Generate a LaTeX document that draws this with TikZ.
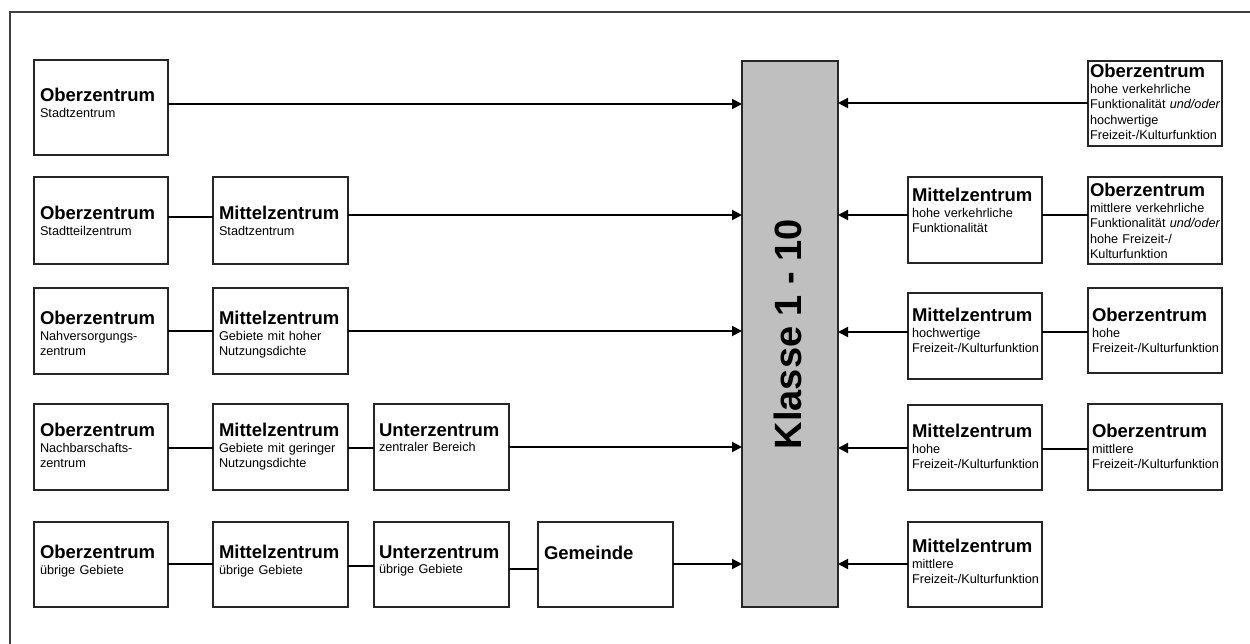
\documentclass[tikz,border=0pt]{standalone}
\usepackage{fontspec}
\setmainfont{Liberation Sans}
\usetikzlibrary{arrows.meta}
\newcommand\ttl{\fontsize{18.5}{20}\selectfont\bfseries}
\newcommand\sbt{\fontsize{12.7}{15.5}\selectfont}
\tikzset{
  box/.style={draw=black!85, line width=1.1pt, fill=white, inner sep=0pt, outer sep=0pt, anchor=north west},
  txt/.style={inner sep=0pt, outer sep=0pt, anchor=north west, text width=170pt, align=left, font=\sbt},
  arr/.style={line width=2pt, -{Triangle[length=10pt,width=10pt]}},
  lnk/.style={line width=2pt},
}
\begin{document}
\begin{tikzpicture}[x=1pt,y=-1pt]
\useasboundingbox (0,0) rectangle (1250,644);
\draw[black!75, line width=1.2pt] (10,12) rectangle (1275,670);
% left boxes
\node[box, minimum width=134pt, minimum height=95pt] (b11) at (34,60) {};
\node[box, minimum width=134pt, minimum height=87pt] (b21) at (34,177) {};
\node[box, minimum width=135pt, minimum height=87pt] (b22) at (213,177) {};
\node[box, minimum width=134pt, minimum height=86pt] (b31) at (34,288) {};
\node[box, minimum width=135pt, minimum height=86pt] (b32) at (213,288) {};
\node[box, minimum width=134pt, minimum height=86pt] (b41) at (34,404) {};
\node[box, minimum width=135pt, minimum height=86pt] (b42) at (213,404) {};
\node[box, minimum width=135pt, minimum height=86pt] (b43) at (374,404) {};
\node[box, minimum width=134pt, minimum height=85pt] (b51) at (34,522) {};
\node[box, minimum width=135pt, minimum height=85pt] (b52) at (213,522) {};
\node[box, minimum width=135pt, minimum height=85pt] (b53) at (374,522) {};
\node[box, minimum width=135pt, minimum height=85pt] (b54) at (538,522) {};
% bar
\node[box, fill=black!25, minimum width=96pt, minimum height=546pt] (bar) at (742,61) {};
\node[font=\fontsize{38}{40}\selectfont\bfseries, rotate=90, inner sep=0pt] (klasse) at (788,334) {Klasse 1 - 10};
% right boxes
\node[box, minimum width=134pt, minimum height=85pt] (r1o) at (1088,61) {};
\node[box, minimum width=134pt, minimum height=86pt] (r2m) at (908,177) {};
\node[box, minimum width=134pt, minimum height=87pt] (r2o) at (1088,177) {};
\node[box, minimum width=134pt, minimum height=86pt] (r3m) at (908,293) {};
\node[box, minimum width=134pt, minimum height=85pt] (r3o) at (1088,288) {};
\node[box, minimum width=134pt, minimum height=85pt] (r4m) at (908,405) {};
\node[box, minimum width=134pt, minimum height=86pt] (r4o) at (1088,404) {};
\node[box, minimum width=134pt, minimum height=85pt] (r5m) at (908,522) {};
% texts (north = title baseline - 13.5)
\node[txt] (t11) at (40,88.5) {{\ttl Oberzentrum}\\Stadtzentrum};
\node[txt] (t21) at (40,206.5) {{\ttl Oberzentrum}\\Stadtteilzentrum};
\node[txt] (t22) at (219,206.5) {{\ttl Mittelzentrum}\\Stadtzentrum};
\node[txt] (t31) at (40,311.5) {{\ttl Oberzentrum}\\Nahversorgungs-\\zentrum};
\node[txt] (t32) at (219,311.5) {{\ttl Mittelzentrum}\\Gebiete mit hoher\\Nutzungsdichte};
\node[txt] (t41) at (40,423.5) {{\ttl Oberzentrum}\\Nachbarschafts-\\zentrum};
\node[txt] (t42) at (219,423.5) {{\ttl Mittelzentrum}\\Gebiete mit geringer\\Nutzungsdichte};
\node[txt] (t43) at (379,423.5) {{\ttl Unterzentrum}\\zentraler Bereich};
\node[txt] (t51) at (40,545.5) {{\ttl Oberzentrum}\\übrige Gebiete};
\node[txt] (t52) at (219,545.5) {{\ttl Mittelzentrum}\\übrige Gebiete};
\node[txt] (t53) at (379,545.5) {{\ttl Unterzentrum}\\übrige Gebiete};
\node[txt] (t54) at (544,546.5) {{\ttl Gemeinde}};
\node[txt] (tr1o) at (1090,64.5) {{\ttl Oberzentrum}\\hohe verkehrliche\\Funktionalität \textit{und/oder}\\hochwertige\\Freizeit-/Kulturfunktion};
\node[txt] (tr2m) at (912,188.5) {{\ttl Mittelzentrum}\\hohe verkehrliche\\Funktionalität};
\node[txt] (tr2o) at (1090,183.5) {{\ttl Oberzentrum}\\mittlere verkehrliche\\Funktionalität \textit{und/oder}\\hohe Freizeit-/\\Kulturfunktion};
\node[txt] (tr3m) at (912,308.5) {{\ttl Mittelzentrum}\\hochwertige\\Freizeit-/Kulturfunktion};
\node[txt] (tr3o) at (1092,308.5) {{\ttl Oberzentrum}\\hohe\\Freizeit-/Kulturfunktion};
\node[txt] (tr4m) at (912,424.5) {{\ttl Mittelzentrum}\\hohe\\Freizeit-/Kulturfunktion};
\node[txt] (tr4o) at (1092,424.5) {{\ttl Oberzentrum}\\mittlere\\Freizeit-/Kulturfunktion};
\node[txt] (tr5m) at (912,539.5) {{\ttl Mittelzentrum}\\mittlere\\Freizeit-/Kulturfunktion};
% links
\draw[lnk] (b21.east |- 0,217) -- (b22.west |- 0,217);
\draw[lnk] (b31.east |- 0,331) -- (b32.west |- 0,331);
\draw[lnk] (b41.east |- 0,448) -- (b42.west |- 0,448);
\draw[lnk] (b42.east |- 0,448) -- (b43.west |- 0,448);
\draw[lnk] (b51.east |- 0,564) -- (b52.west |- 0,564);
\draw[lnk] (b52.east |- 0,566) -- (b53.west |- 0,566);
\draw[lnk] (b53.east |- 0,569) -- (b54.west |- 0,569);
\draw[lnk] (r2m.east |- 0,215) -- (r2o.west |- 0,215);
\draw[lnk] (r3m.east |- 0,332) -- (r3o.west |- 0,332);
\draw[lnk] (r4m.east |- 0,449) -- (r4o.west |- 0,449);
% arrows into bar
\draw[arr] (b11.east |- 0,104) -- (bar.west |- 0,104);
\draw[arr] (b22.east |- 0,215) -- (bar.west |- 0,215);
\draw[arr] (b32.east |- 0,331) -- (bar.west |- 0,331);
\draw[arr] (b43.east |- 0,447) -- (bar.west |- 0,447);
\draw[arr] (b54.east |- 0,564) -- (bar.west |- 0,564);
\draw[arr] (r1o.west |- 0,103) -- (bar.east |- 0,103);
\draw[arr] (r2m.west |- 0,215) -- (bar.east |- 0,215);
\draw[arr] (r3m.west |- 0,332) -- (bar.east |- 0,332);
\draw[arr] (r4m.west |- 0,448) -- (bar.east |- 0,448);
\draw[arr] (r5m.west |- 0,564) -- (bar.east |- 0,564);
\end{tikzpicture}
\end{document}
